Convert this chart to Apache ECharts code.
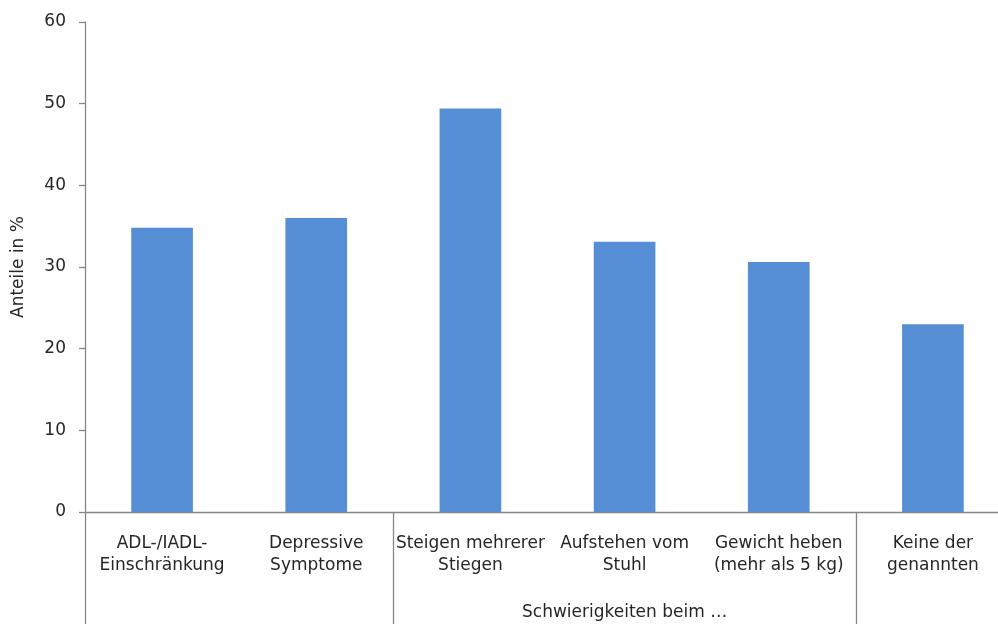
<!DOCTYPE html>
<html>
<head>
<meta charset="utf-8">
<script src="https://cdn.jsdelivr.net/npm/echarts@6/dist/echarts.min.js"></script>
<style>
  html, body { margin: 0; padding: 0; background: #ffffff; }
  #chart { width: 998px; height: 624px; }
</style>
</head>
<body>
<div id="chart"></div>
<script>
// Categories (line breaks as shown under each bar)
const categories = [
  'ADL-/IADL-\nEinschränkung',
  'Depressive\nSymptome',
  'Steigen mehrerer\nStiegen',
  'Aufstehen vom\nStuhl',
  'Gewicht heben\n(mehr als 5 kg)',
  'Keine der\ngenannten'
];
// Group label row: the middle three categories share one heading
const groupLabels = ['', '', '', 'Schwierigkeiten beim …', '', ''];
// Indices of categories whose left boundary gets a group divider
const groupStarts = [0, 2, 5];
// Shares in percent
const values = [34.8, 36.0, 49.4, 33.1, 30.6, 23.0];
// Value axis ticks
const yTicks = [0, 10, 20, 30, 40, 50, 60];

const FONT = 'DejaVu Sans';
const TEXT = '#262626';
const AXIS = '#868686';
const FS = 17;

const chart = echarts.init(document.getElementById('chart'));
chart.setOption({
  animation: false,
  textStyle: { fontFamily: FONT },
  grid: { left: 85, top: 22, width: 925, height: 490, outerBoundsMode: 'none', containLabel: false },
  xAxis: [
    {
      type: 'category',
      data: categories,
      position: 'bottom',
      axisLine: { show: true, lineStyle: { color: AXIS, width: 1.3 } },
      axisTick: {
        show: true,
        length: 112,
        interval: function (index) { return groupStarts.indexOf(index) !== -1; },
        lineStyle: { color: AXIS, width: 1.3 }
      },
      axisLabel: {
        interval: 0,
        margin: 21,
        color: TEXT,
        fontFamily: FONT,
        fontSize: FS,
        lineHeight: 22,
        align: 'center',
        hideOverlap: false
      }
    },
    {
      type: 'category',
      data: groupLabels,
      position: 'bottom',
      axisLine: { show: false },
      axisTick: { show: false },
      axisLabel: {
        interval: 0,
        margin: 90,
        color: TEXT,
        fontFamily: FONT,
        fontSize: FS,
        lineHeight: 22
      }
    }
  ],
  yAxis: {
    type: 'value',
    min: yTicks[0],
    max: yTicks[yTicks.length - 1],
    interval: yTicks[1] - yTicks[0],
    name: 'Anteile in %',
    nameLocation: 'middle',
    nameGap: 58,
    nameRotate: 90,
    nameTextStyle: { color: TEXT, fontFamily: FONT, fontSize: FS },
    axisLine: { show: true, lineStyle: { color: AXIS, width: 1.3 } },
    axisTick: { show: true, length: 6, lineStyle: { color: AXIS, width: 1.3 } },
    axisLabel: { margin: 19, color: TEXT, fontFamily: FONT, fontSize: FS, padding: [3, 0, 0, 0] },
    splitLine: { show: false }
  },
  series: [
    {
      type: 'bar',
      xAxisIndex: 0,
      data: values,
      barWidth: '40%',
      itemStyle: { color: '#558ED5' }
    }
  ]
});
</script>
</body>
</html>
